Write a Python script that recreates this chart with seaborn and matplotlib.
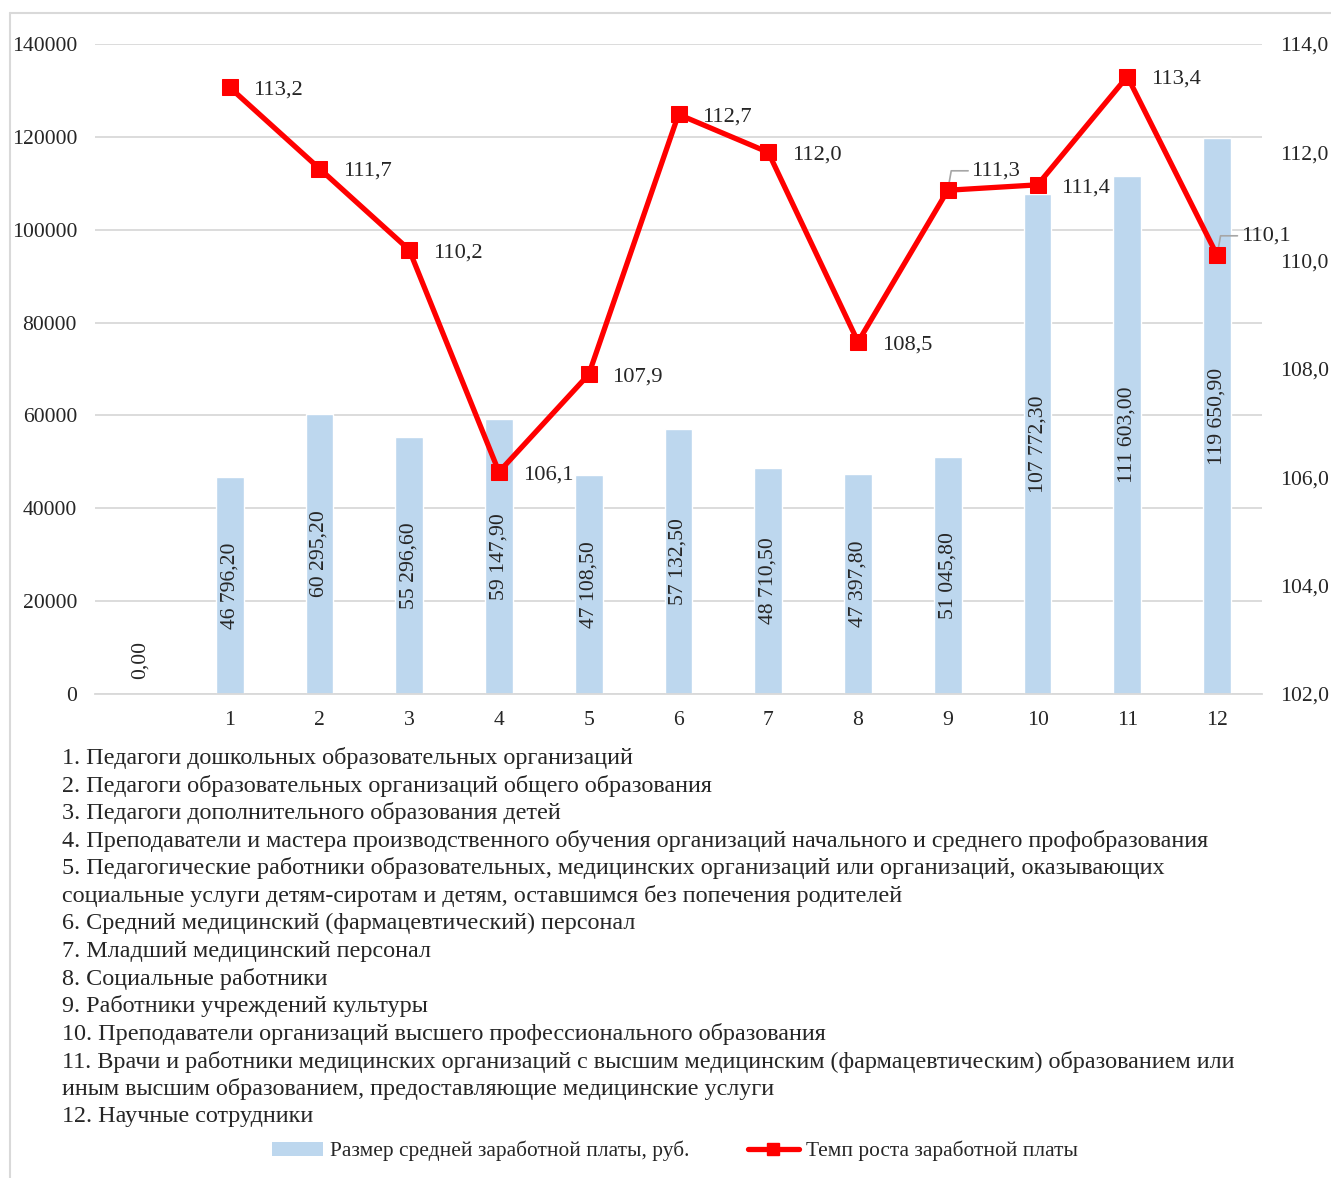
import numpy as np
import pandas as pd
import seaborn as sns
import matplotlib.pyplot as plt
from matplotlib.lines import Line2D
from matplotlib.patches import Patch

# categories: first one is an empty slot with zero salary
categories = ["", "1", "2", "3", "4", "5", "6", "7", "8", "9", "10", "11", "12"]
salary = [0.00, 46796.20, 60295.20, 55296.60, 59147.90, 47108.50, 57132.50,
          48710.50, 47397.80, 51045.80, 107772.30, 111603.00, 119650.90]
growth_x = [1, 2, 3, 4, 5, 6, 7, 8, 9, 10, 11, 12]
growth = [113.2, 111.7, 110.2, 106.1, 107.9, 112.7, 112.0, 108.5, 111.3, 111.4, 113.4, 110.1]

notes = [
    "1. Педагоги дошкольных образовательных организаций",
    "2. Педагоги образовательных организаций общего образования",
    "3. Педагоги дополнительного образования детей",
    "4. Преподаватели и мастера производственного обучения организаций начального и среднего профобразования",
    "5. Педагогические работники образовательных, медицинских организаций или организаций, оказывающих",
    "социальные услуги детям-сиротам и детям, оставшимся без попечения родителей",
    "6. Средний медицинский (фармацевтический) персонал",
    "7. Младший медицинский персонал",
    "8. Социальные работники",
    "9. Работники учреждений культуры",
    "10. Преподаватели организаций высшего профессионального образования",
    "11. Врачи и работники медицинских организаций с высшим медицинским (фармацевтическим) образованием или",
    "иным высшим образованием, предоставляющие медицинские услуги",
    "12. Научные сотрудники",
]

BAR_COLOR = "#BDD7EE"
LINE_COLOR = "#FF0000"
GRID = "#D9D9D9"
FS = 15.6

sns.set_theme(style="white")
plt.rcParams["font.family"] = ["Liberation Serif", "DejaVu Serif"]
plt.rcParams["font.size"] = FS

df = pd.DataFrame({"cat": categories, "salary": salary})

fig = plt.figure(figsize=(13.31, 11.78), dpi=100)
W, H = 1331, 1178
ax = fig.add_axes([95 / W, 1 - 694 / H, (1262 - 95) / W, (694 - 44) / H])

sns.barplot(data=df, x="cat", y="salary", order=categories, color=BAR_COLOR,
            width=0.31, saturation=1, ax=ax, zorder=2)
ax.set_ylim(0, 140000)
ax.set_xlim(-0.5, 12.5)
ax.set_yticks(np.arange(0, 140001, 20000))
ax.set_yticklabels([str(v) for v in range(0, 140001, 20000)], fontsize=FS)
ax.yaxis.grid(True, color=GRID, linewidth=1.3, zorder=0)
ax.set_axisbelow(True)
for s in ["top", "right", "left"]:
    ax.spines[s].set_visible(False)
ax.spines["bottom"].set_color(GRID)
ax.spines["bottom"].set_linewidth(1.3)
ax.set_xlabel("")
ax.set_ylabel("")
ax.tick_params(axis="y", length=0, pad=13)
ax.tick_params(axis="x", which="major", length=0, pad=12, labelsize=FS)
ax.set_xticks(np.arange(-0.5, 13, 1), minor=True)
ax.tick_params(axis="x", which="minor", length=6, color=GRID, width=1.3)

# bar value labels
for i, v in enumerate(salary):
    txt = f"{v:,.2f}".replace(",", " ").replace(".", ",")
    if v == 0:
        ax.annotate(txt, (i, 0), xytext=(0, 11), textcoords="offset points",
                    rotation=90, ha="center", va="bottom", fontsize=FS)
    else:
        ax.text(i, v / 2, txt, rotation=90, ha="center", va="center", fontsize=FS)

# growth line on secondary axis
ax2 = ax.twinx()
sns.lineplot(x=growth_x, y=growth, ax=ax2, color=LINE_COLOR, linewidth=3.8,
             marker="s", markersize=12, markeredgecolor=LINE_COLOR, zorder=5)
ax2.set_ylim(102, 114)
ax2.set_yticks(np.arange(102, 114.1, 2))
ax2.set_yticklabels([f"{v:.1f}".replace(".", ",") for v in np.arange(102, 114.1, 2)],
                    fontsize=FS)
ax2.tick_params(axis="y", length=0, pad=13)
for s in ax2.spines.values():
    s.set_visible(False)
ax2.set_xlim(-0.5, 12.5)

for x, y in zip(growth_x, growth):
    label = f"{y:.1f}".replace(".", ",")
    if x in (9, 12):
        ax2.annotate(label, (x, y), xytext=(17, 14), textcoords="offset points",
                     ha="left", va="center", fontsize=16.2,
                     arrowprops=dict(arrowstyle="-", color="#A6A6A6", lw=1.2,
                                     shrinkA=0, shrinkB=2,
                                     connectionstyle="angle,angleA=0,angleB=80,rad=0"))
    else:
        ax2.annotate(label, (x, y), xytext=(17, -2), textcoords="offset points",
                     ha="left", va="center", fontsize=16.2)

# notes under the chart
y0, step = 758, 27.6
for k, line in enumerate(notes):
    fig.text(62 / W, 1 - (y0 + k * step) / H, line, ha="left", va="center", fontsize=17.4)

handles = [Patch(facecolor=BAR_COLOR, edgecolor="none"),
           Line2D([0], [0], color=LINE_COLOR, linewidth=3.8, marker="s", markersize=8)]
fig.legend(handles, ["Размер средней заработной платы, руб.", "Темп роста заработной платы"],
           loc="center", bbox_to_anchor=(675 / W, 1 - 1151 / H), ncol=2, frameon=False,
           fontsize=15.4, handlelength=2.4, handleheight=0.6, handletextpad=0.33,
           columnspacing=2.7)

# outer chart frame (left and top edges visible)
fig.add_artist(Line2D([10 / W, 10 / W], [0, 1 - 13 / H], color=GRID, linewidth=1.5))
fig.add_artist(Line2D([10 / W, 1], [1 - 13 / H, 1 - 13 / H], color=GRID, linewidth=1.5))

fig.savefig("out.png", dpi=100)
